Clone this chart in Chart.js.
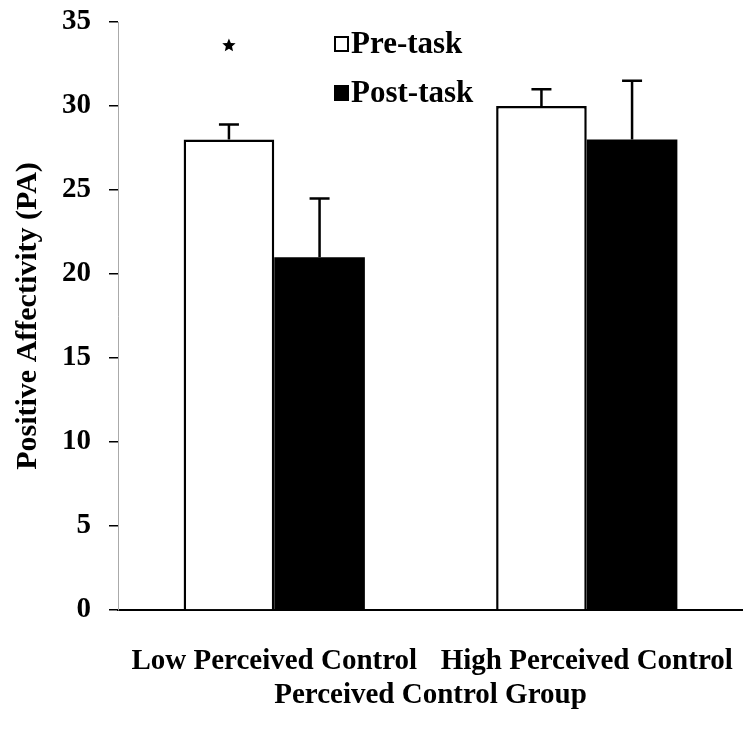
<!DOCTYPE html>
<html lang="en">
<head>
  <meta charset="utf-8" />
  <title>Positive Affectivity by Perceived Control Group</title>
  <style>
    html, body { margin: 0; padding: 0; background: #fff; }
    #wrap { width: 743px; height: 739px; }
  </style>
</head>
<body>
  <div id="wrap"><canvas id="chart" width="743" height="739"></canvas></div>
  <script src="https://cdn.jsdelivr.net/npm/chart.js@4.4.1/dist/chart.umd.min.js"></script>
  <script>
  const groups = ["Low Perceived Control", "High Perceived Control"];
  const preTask = [28, 30];
  const postTask = [21, 28];
  const preErr = [0.9, 1.0];
  const postErr = [3.5, 3.5];
  const yTicks = [0, 5, 10, 15, 20, 25, 30, 35];
  const starAt = { group: 0, value: 33.6 };

  const FONT = "'Liberation Serif', 'Times New Roman', serif";

  // error bars (upper only) drawn from each bar's top
  const errorBars = {
    id: "errorBars",
    afterDatasetsDraw(chart) {
      const ctx = chart.ctx;
      const y = chart.scales.y;
      const errs = [preErr, postErr];
      ctx.save();
      ctx.strokeStyle = "#000";
      ctx.lineWidth = 2.5;
      chart.data.datasets.forEach(function (ds, di) {
        chart.getDatasetMeta(di).data.forEach(function (bar, i) {
          const top = y.getPixelForValue(ds.data[i] + errs[di][i]);
          ctx.beginPath();
          ctx.moveTo(bar.x, bar.y);
          ctx.lineTo(bar.x, top);
          ctx.moveTo(bar.x - 10, top);
          ctx.lineTo(bar.x + 10, top);
          ctx.stroke();
        });
      });
      // significance star
      const b = chart.getDatasetMeta(0).data[starAt.group];
      const sy = y.getPixelForValue(starAt.value);
      ctx.fillStyle = "#000";
      ctx.beginPath();
      for (let k = 0; k < 10; k++) {
        const r = k % 2 === 0 ? 7 : 3.2;
        const a = -Math.PI / 2 + k * Math.PI / 5;
        const px = b.x + r * Math.cos(a), py = sy + r * Math.sin(a);
        if (k === 0) ctx.moveTo(px, py); else ctx.lineTo(px, py);
      }
      ctx.closePath();
      ctx.fill();
      ctx.restore();
    }
  };

  // legend drawn inside the plot, like the original
  const innerLegend = {
    id: "innerLegend",
    afterDraw(chart) {
      const ctx = chart.ctx;
      const a = chart.chartArea;
      const x0 = a.left + 217, y0 = a.top + 22;
      ctx.save();
      ctx.font = "bold 31px " + FONT;
      ctx.textBaseline = "middle";
      chart.data.datasets.forEach(function (ds, i) {
        const yy = y0 + i * 49;
        ctx.fillStyle = ds.backgroundColor;
        ctx.fillRect(x0, yy - 7, 13, 14);
        ctx.strokeStyle = "#000";
        ctx.lineWidth = 2;
        ctx.strokeRect(x0, yy - 7, 13, 14);
        ctx.fillStyle = "#000";
        ctx.fillText(ds.label, x0 + 16, yy + 1);
      });
      ctx.restore();
    }
  };

  new Chart(document.getElementById("chart"), {
    type: "bar",
    data: {
      labels: groups,
      datasets: [
        { label: "Pre-task", data: preTask, backgroundColor: "#ffffff", borderColor: "#000", borderWidth: 2.5 },
        { label: "Post-task", data: postTask, backgroundColor: "#000000", borderColor: "#000", borderWidth: 0 }
      ]
    },
    options: {
      responsive: false,
      animation: false,
      layout: { padding: { top: 22, right: 0, bottom: 0, left: 0 } },
      datasets: { bar: { categoryPercentage: 0.58, barPercentage: 1.0 } },
      plugins: { legend: { display: false }, tooltip: { enabled: false } },
      scales: {
        x: {
          afterFit(s) { s.height = 129; s.paddingLeft = 0; s.paddingRight = 0; },
          grid: { display: false, drawTicks: false },
          border: { display: true, color: "#000", width: 2 },
          ticks: { color: "#000", padding: 34, maxRotation: 0, autoSkip: false,
                   font: { family: FONT, size: 29, weight: "bold" } },
          title: { display: true, text: "Perceived Control Group", color: "#000", padding: { top: 0, bottom: 26 },
                   font: { family: FONT, size: 29, weight: "bold" } }
        },
        y: {
          min: 0,
          max: 35,
          afterFit(s) { s.width = 118; s.paddingTop = 0; s.paddingBottom = 0; },
          afterBuildTicks(s) { s.ticks = yTicks.map(function (v) { return { value: v }; }); },
          grid: { drawOnChartArea: false, drawTicks: true, tickLength: 9, color: "#000", lineWidth: 1.5 },
          border: { display: true, color: "#aaa", width: 1, dash: [1, 4] },
          ticks: { color: "#000", padding: 18, font: { family: FONT, size: 29, weight: "bold" } },
          title: { display: true, text: "Positive Affectivity (PA)", color: "#000", padding: { top: 10, bottom: 0 },
                   font: { family: FONT, size: 30, weight: "bold" } }
        }
      }
    },
    plugins: [errorBars, innerLegend]
  });
  </script>
</body>
</html>
